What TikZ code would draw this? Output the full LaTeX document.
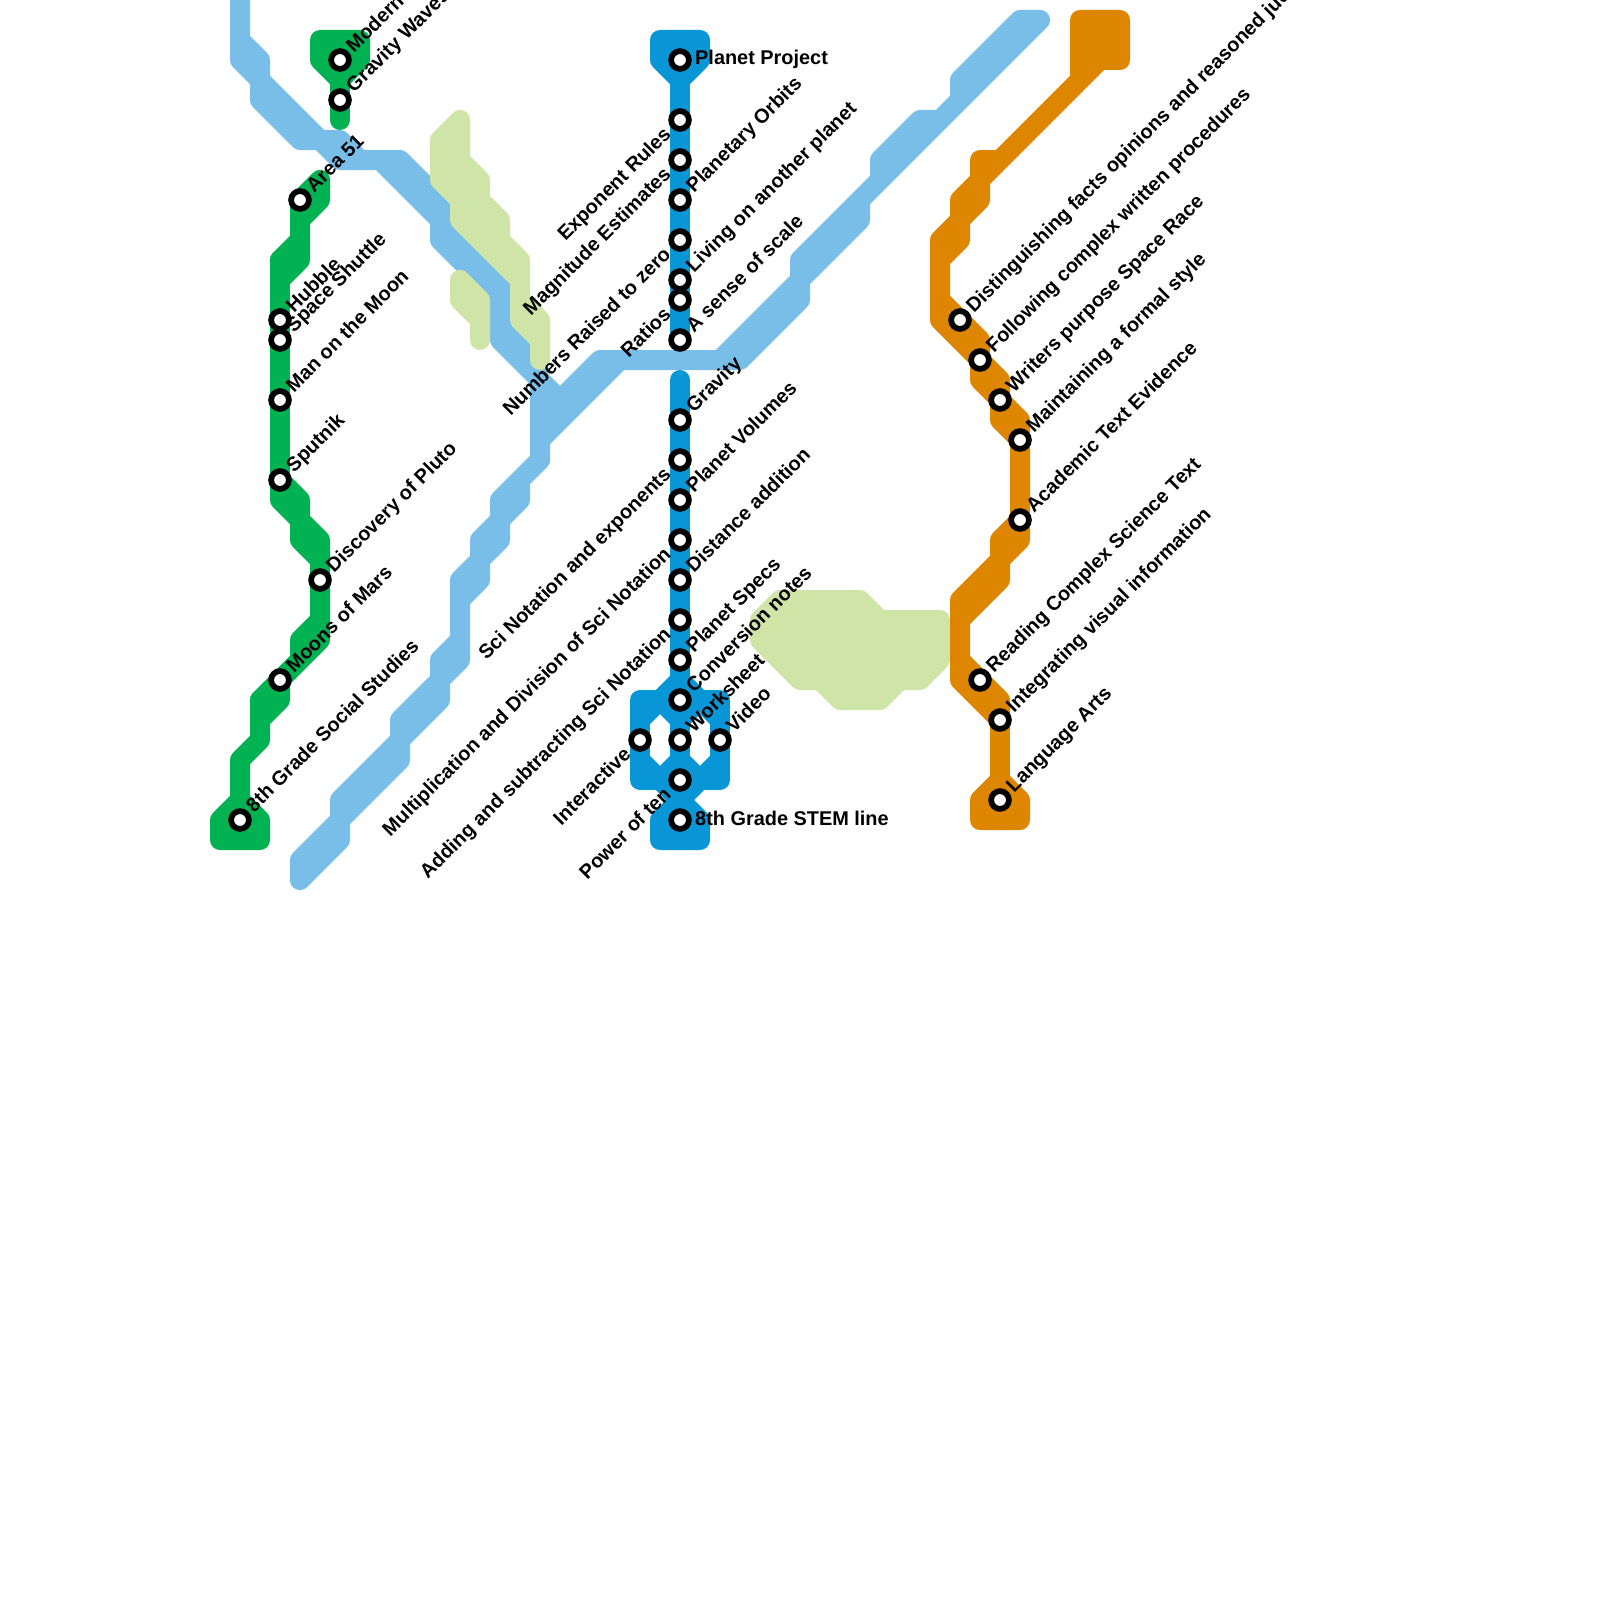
\documentclass[tikz,border=0pt]{standalone}
\usepackage{fontspec}
\setmainfont{Liberation Sans}
\usepackage{tikz}
\usetikzlibrary{backgrounds}
\usepackage{xcolor}
\definecolor{stemC}{HTML}{0896D7}
\definecolor{sociC}{HTML}{00B251}
\definecolor{langC}{HTML}{DF8600}
\definecolor{skyC}{HTML}{79BDE9}
\definecolor{limeC}{HTML}{CFE4A7}
\tikzset{
  track/.style={line width=20pt,line cap=round,line join=round},
  stemln/.style={track,draw=stemC},
  socialln/.style={track,draw=sociC},
  langln/.style={track,draw=langC},
  stemfl/.style={track,draw=stemC,fill=stemC},
  socialfl/.style={track,draw=sociC,fill=sociC},
  langfl/.style={track,draw=langC,fill=langC},
  skyfl/.style={track,draw=skyC,fill=skyC},
  limefl/.style={track,draw=limeC,fill=limeC},
  stn/.style={circle,draw=black,fill=white,line width=5.7pt,minimum size=17.8pt,inner sep=0pt},
  tag/.style={inner sep=0pt,text=black,font=\bfseries\fontsize{19.9}{24}\selectfont},
  tagr/.style={tag,rotate=45,anchor=base west},
  tagl/.style={tag,rotate=45,anchor=base east},
  tagh/.style={tag,anchor=base west},
}
\begin{document}
\begin{tikzpicture}[x=1pt,y=-1pt]
  \useasboundingbox (0,0) rectangle (1600,1600);
  % social studies line
  \node[stn] (modern) at (340,60) {};
  \node[stn] (gravwave) at (340,100) {};
  \node[stn] (area) at (300,200) {};
  \node[stn] (hubble) at (280,320) {};
  \node[stn] (shuttle) at (280,340) {};
  \node[stn] (moon) at (280,400) {};
  \node[stn] (sputnik) at (280,480) {};
  \node[stn] (pluto) at (320,580) {};
  \node[stn] (mars) at (280,680) {};
  \node[stn] (social) at (240,820) {};
  \node[tagr] (modern-t) at ([shift={(14,-6.5)}]modern.center) {Modern};
  \node[tagr] (gravwave-t) at ([shift={(14,-6.5)}]gravwave.center) {Gravity Waves};
  \node[tagr] (area-t) at ([shift={(14,-6.5)}]area.center) {Area 51};
  \node[tagr] (hubble-t) at ([shift={(14,-6.5)}]hubble.center) {Hubble};
  \node[tagr] (shuttle-t) at ([shift={(14,-6.5)}]shuttle.center) {Space Shuttle};
  \node[tagr] (moon-t) at ([shift={(14,-6.5)}]moon.center) {Man on the Moon};
  \node[tagr] (sputnik-t) at ([shift={(14,-6.5)}]sputnik.center) {Sputnik};
  \node[tagr] (pluto-t) at ([shift={(14,-6.5)}]pluto.center) {Discovery of Pluto};
  \node[tagr] (mars-t) at ([shift={(14,-6.5)}]mars.center) {Moons of Mars};
  \node[tagr] (social-t) at ([shift={(14,-6.5)}]social.center) {8th Grade Social Studies};
  % stem line
  \node[stn] (project) at (680,60) {};
  \node[stn] (exprule) at (680,120) {};
  \node[stn] (magest) at (680,160) {};
  \node[stn] (orbits) at (680,200) {};
  \node[stn] (zero) at (680,240) {};
  \node[stn] (living) at (680,280) {};
  \node[stn] (ratios) at (680,300) {};
  \node[stn] (scale) at (680,340) {};
  \node[stn] (gravity) at (680,420) {};
  \node[stn] (sciexp) at (680,460) {};
  \node[stn] (volumes) at (680,500) {};
  \node[stn] (multdiv) at (680,540) {};
  \node[stn] (distance) at (680,580) {};
  \node[stn] (addsub) at (680,620) {};
  \node[stn] (specs) at (680,660) {};
  \node[stn] (convert) at (680,700) {};
  \node[stn] (worksheet) at (680,740) {};
  \node[stn] (interact) at (640,740) {};
  \node[stn] (video) at (720,740) {};
  \node[stn] (power) at (680,780) {};
  \node[stn] (stem) at (680,820) {};
  \node[tagh] (project-t) at (695,64.5) {Planet Project};
  \node[tagl] (exprule-t) at ([shift={(-8,15.5)}]exprule.center) {Exponent Rules};
  \node[tagl] (magest-t) at ([shift={(-8,15.5)}]magest.center) {Magnitude Estimates};
  \node[tagr] (orbits-t) at ([shift={(14,-6.5)}]orbits.center) {Planetary Orbits};
  \node[tagl] (zero-t) at ([shift={(-8,15.5)}]zero.center) {Numbers Raised to zero};
  \node[tagr] (living-t) at ([shift={(14,-6.5)}]living.center) {Living on another planet};
  \node[tagl] (ratios-t) at ([shift={(-8,15.5)}]ratios.center) {Ratios};
  \node[tagr] (scale-t) at ([shift={(14,-6.5)}]scale.center) {A sense of scale};
  \node[tagr] (gravity-t) at ([shift={(14,-6.5)}]gravity.center) {Gravity};
  \node[tagl] (sciexp-t) at ([shift={(-8,15.5)}]sciexp.center) {Sci Notation and exponents};
  \node[tagr] (volumes-t) at ([shift={(14,-6.5)}]volumes.center) {Planet Volumes};
  \node[tagl] (multdiv-t) at ([shift={(-8,15.5)}]multdiv.center) {Multiplication and Division of Sci Notation};
  \node[tagr] (distance-t) at ([shift={(14,-6.5)}]distance.center) {Distance addition};
  \node[tagl] (addsub-t) at ([shift={(-8,15.5)}]addsub.center) {Adding and subtracting Sci Notation};
  \node[tagr] (specs-t) at ([shift={(14,-6.5)}]specs.center) {Planet Specs};
  \node[tagr] (convert-t) at ([shift={(14,-6.5)}]convert.center) {Conversion notes};
  \node[tagr] (worksheet-t) at ([shift={(14,-6.5)}]worksheet.center) {Worksheet};
  \node[tagl] (interact-t) at ([shift={(-8,15.5)}]interact.center) {Interactive};
  \node[tagr] (video-t) at ([shift={(14,-6.5)}]video.center) {Video};
  \node[tagl] (power-t) at ([shift={(-8,15.5)}]power.center) {Power of ten};
  \node[tagh] (stem-t) at (695,825) {8th Grade STEM line};
  % language arts line
  \node[stn] (facts) at (960,320) {};
  \node[stn] (follow) at (980,360) {};
  \node[stn] (writers) at (1000,400) {};
  \node[stn] (formal) at (1020,440) {};
  \node[stn] (evidence) at (1020,520) {};
  \node[stn] (reading) at (980,680) {};
  \node[stn] (visual) at (1000,720) {};
  \node[stn] (lang) at (1000,800) {};
  \node[tagr] (facts-t) at ([shift={(14,-6.5)}]facts.center) {Distinguishing facts opinions and reasoned judgment};
  \node[tagr] (follow-t) at ([shift={(14,-6.5)}]follow.center) {Following complex written procedures};
  \node[tagr] (writers-t) at ([shift={(14,-6.5)}]writers.center) {Writers purpose Space Race};
  \node[tagr] (formal-t) at ([shift={(14,-6.5)}]formal.center) {Maintaining a formal style};
  \node[tagr] (evidence-t) at ([shift={(14,-6.5)}]evidence.center) {Academic Text Evidence};
  \node[tagr] (reading-t) at ([shift={(14,-6.5)}]reading.center) {Reading Complex Science Text};
  \node[tagr] (visual-t) at ([shift={(14,-6.5)}]visual.center) {Integrating visual information};
  \node[tagr] (lang-t) at ([shift={(14,-6.5)}]lang.center) {Language Arts};
  \begin{scope}[on background layer]
    \fill[white] (0,0) rectangle (1600,1600);
    % sky line
    \filldraw[skyfl] (240,0)--(240,40)--(260,60)--(260,80)--(320,140)--(340,140)--(360,160)--(400,160)
      --(440,200)--(440,220)--(500,280)--(500,320)--(530,350)--(540,380)--(500,340)--(500,300)
      --(440,240)--(440,220)--(380,160)--(340,160)--(320,140)--(300,140)--(260,100)--(260,80)
      --(240,60)--(240,40)--cycle;
    \filldraw[skyfl] (540,380)--(560,400)--(600,360)--(720,360)--(800,280)--(800,260)--(880,180)
      --(880,160)--(920,120)--(940,120)--(960,100)--(960,80)--(1020,20)--(1040,20)--(860,200)
      --(860,220)--(800,280)--(800,300)--(740,360)--(620,360)--(540,440)--(540,460)--cycle;
    \filldraw[skyfl] (540,460)--(500,500)--(500,520)--(480,540)--(480,560)--(460,580)--(460,640)
      --(440,660)--(440,680)--(400,720)--(400,740)--(340,800)--(340,820)--(300,860)--(300,880)
      --(340,840)--(340,820)--(400,760)--(400,740)--(440,700)--(440,680)--(460,660)--(460,600)
      --(480,580)--(480,560)--(500,540)--(500,520)--(520,500)--(520,480)--cycle;
    % lime line
    \filldraw[limefl] (460,120)--(440,140)--(440,180)--(460,200)--(460,220)--(520,280)--(520,320)
      --(540,340)--(540,360)--(540,320)--(520,300)--(520,260)--(500,240)--(500,220)--(480,200)
      --(480,180)--(460,160)--cycle;
    \filldraw[limefl] (460,280)--(480,300)--(480,340)--(480,320)--(460,300)--cycle;
    \filldraw[limefl] (780,600)--(860,600)--(880,620)--(940,620)--(940,660)--(920,680)--(900,680)
      --(880,700)--(840,700)--(820,680)--(800,680)--(760,640)--(760,620)--cycle;
    % social studies line
    \filldraw[socialfl] (320,40)--(360,40)--(360,60)--(340,80)--(320,60)--cycle;
    \draw[socialln] (modern.center)--(gravwave.center)--(340,120);
    \filldraw[socialfl] (area.center)--(320,180)--(320,200)--(300,220)--(300,260)--(280,280)--(280,260)
      --(300,240)--cycle;
    \draw[socialln] (280,260)--(hubble.center)--(shuttle.center)--(moon.center)--(sputnik.center);
    \filldraw[socialfl] (sputnik.center)--(300,500)--(300,520)--(320,540)--(pluto.center)--(320,640)--(mars.center)
      --(300,660)--(300,640)--(320,620)--(320,560)--(300,540)--(300,520)--(280,500)--cycle;
    \filldraw[socialfl] (mars.center)--(280,700)--(260,720)--(260,700)--cycle;
    \draw[socialln] (260,700)--(260,740)--(240,760)--(240,800);
    \filldraw[socialfl] (240,800)--(260,820)--(260,840)--(220,840)--(220,820)--cycle;
    % stem line
    \filldraw[stemfl] (660,40)--(700,40)--(700,60)--(680,80)--(660,60)--cycle;
    \draw[stemln] (project.center)--(exprule.center)--(magest.center)--(orbits.center)--(zero.center)
      --(living.center)--(ratios.center)--(scale.center);
    \draw[stemln] (680,380)--(gravity.center)--(sciexp.center)--(volumes.center)--(multdiv.center)
      --(distance.center)--(addsub.center)--(specs.center)--(680,680)--(convert.center)
      --(worksheet.center)--(power.center)--(680,800);
    \draw[stemln] (640,700)--(720,700)--(video.center)--(720,780)--(640,780)--(interact.center)--cycle;
    \filldraw[stemfl] (680,680)--(700,700)--(660,700)--cycle;
    \draw[stemln] (640,720)--(660,700)--(680,720);
    \draw[stemln] (680,720)--(700,700)--(720,720);
    \draw[stemln] (640,760)--(660,780)--(680,760);
    \draw[stemln] (680,760)--(700,780)--(720,760);
    \filldraw[stemfl] (660,780)--(700,780)--(680,800)--cycle;
    \filldraw[stemfl] (680,800)--(700,820)--(700,840)--(660,840)--(660,820)--cycle;
    % language arts line
    \filldraw[langfl] (1080,20)--(1120,20)--(1120,60)--(1100,60)--(980,180)--(980,200)--(960,220)
      --(960,240)--(940,260)--(940,300)--(980,340)--(follow.center)--(1000,380)--(writers.center)
      --(1020,420)--(formal.center)--(1000,420)--(writers.center)--(980,380)--(follow.center)
      --(960,340)--(940,320)--(940,240)--(960,220)--(960,200)--(980,180)--(980,160)--(1000,160)
      --(1080,80)--cycle;
    \draw[langln] (940,300)--(facts.center)--(follow.center);
    \filldraw[langfl] (formal.center)--(evidence.center)--(1000,540)--(1000,560)--(960,600)--(960,680)
      --(visual.center)--(1000,700)--(reading.center)--(960,660)--(960,620)--(1000,580)--(1000,560)
      --(1020,540)--(evidence.center)--cycle;
    \draw[langln] (visual.center)--(1000,780);
    \filldraw[langfl] (1000,780)--(1020,800)--(1020,820)--(980,820)--(980,800)--cycle;
  \end{scope}
\end{tikzpicture}
\end{document}
